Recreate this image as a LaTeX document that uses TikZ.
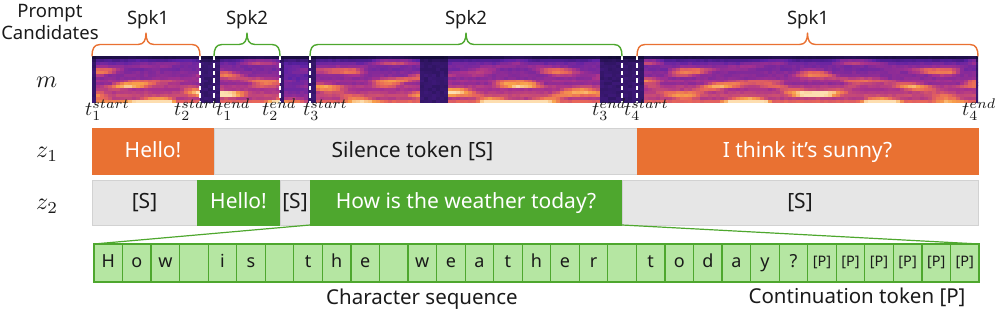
\documentclass[tikz,border=0pt]{standalone}
\usepackage{graphicx}
\usepackage{fontspec}
\setmainfont{Noto Sans}
\definecolor{ora}{HTML}{E97132}
\definecolor{grn}{HTML}{4EA72E}
\definecolor{lgrn}{HTML}{B5E6A2}
\definecolor{gry}{HTML}{E6E6E6}
\definecolor{gryb}{HTML}{D2D2D2}
\definecolor{txt}{HTML}{1A1A1A}
\definecolor{s0}{HTML}{0D0A2E}
\definecolor{s1}{HTML}{5C22A6}
\definecolor{s2}{HTML}{A8318E}
\definecolor{s3}{HTML}{E8665A}
\definecolor{s4}{HTML}{F8A04A}
\definecolor{s5}{HTML}{FDE3B8}
\newcommand\specset[1]{%
  \ifnum#1<30 \pgfmathtruncatemacro\pp{#1*100/30}\colorlet{sc}{s1!\pp!s0}%
  \else\ifnum#1<50 \pgfmathtruncatemacro\pp{(#1-30)*5}\colorlet{sc}{s2!\pp!s1}%
  \else\ifnum#1<70 \pgfmathtruncatemacro\pp{(#1-50)*5}\colorlet{sc}{s3!\pp!s2}%
  \else\ifnum#1<85 \pgfmathtruncatemacro\pp{(#1-70)*100/15}\colorlet{sc}{s4!\pp!s3}%
  \else \pgfmathtruncatemacro\pp{(#1-85)*100/15}\colorlet{sc}{s5!\pp!s4}%
  \fi\fi\fi\fi}
\newcommand\spkbrace[3]{%
  \pgfmathsetmacro\bm{(#1+#2)/2}%
  \draw[#3, line width=1.4pt, line cap=round, line join=round]
    (#1,56) .. controls (#1,49) and (#1+2,44.5) .. (#1+8,44.5)
    -- (\bm-8,44.5) .. controls (\bm-2,44.5) and (\bm,40) .. (\bm,33)
    .. controls (\bm,40) and (\bm+2,44.5) .. (\bm+8,44.5)
    -- (#2-8,44.5) .. controls (#2-2,44.5) and (#2,49) .. (#2,56);}
\newcommand\mth[1]{\scalebox{2.4}{$#1$}}
\newcommand\tth[1]{\scalebox{2.0}{$#1$}}
\tikzset{
  lbl/.style={inner sep=0pt, anchor=base, text=txt, font=\fontsize{18.5}{22}\selectfont},
  mlbl/.style={inner sep=0pt, anchor=base west, text=txt},
  seg/.style={inner sep=0pt, outer sep=0pt, minimum height=46pt, text height=16pt, text depth=3pt,
    font=\fontsize{21}{25}\selectfont, line width=0.8pt},
  obox/.style={seg, fill=ora, draw=ora, text=white},
  gbox/.style={seg, fill=grn, draw=grn, text=white},
  sbox/.style={seg, fill=gry, draw=gryb, text=txt},
  cell/.style={inner sep=0pt, outer sep=0pt, draw=grn, fill=lgrn, line width=1.2pt,
    minimum width=28.548pt, minimum height=38pt, text height=13pt, text depth=3pt,
    text=txt, font=\fontsize{18}{22}\selectfont},
  pcell/.style={cell, text height=10.5pt, text depth=3pt, font=\fontsize{14.5}{17}\selectfont},
  tick/.style={white, line width=1.3pt, dash pattern=on 4.5pt off 3pt}
}
\begin{document}
\begin{tikzpicture}[x=1pt, y=-1pt]
\useasboundingbox (0,0) rectangle (996,315);

% spectrogram
\begin{scope}
\clip (92,56) rectangle (978,103);
\fill[s0] (92,56) rectangle (978,103);
\pgfmathsetseed{4242}
\foreach \i in {0,...,221}{
  \pgfmathsetmacro\xx{92+4*\i}
  \pgfmathsetmacro\act{(\xx>95)*(\xx<198)+(\xx>216)*(\xx<278)+0.6*(\xx>283)*(\xx<306)+(\xx>312)*(\xx<418)+(\xx>446)*(\xx<600)+(\xx>642)*(\xx<976)}
  \pgfmathsetmacro\aa{sin(3.0*\xx)}
  \pgfmathsetmacro\ab{sin(1.8*\xx+50)}
  \pgfmathsetmacro\ac{sin(5.5*\xx+120)}
  \foreach \j in {0,...,15}{
    \pgfmathsetmacro\bb{max(0,min(1,(\aa*sin(50*\j+30)+0.8*\ab*sin(65*\j+10)+0.6*\ac*sin(38*\j+80))/1.4))}
    \pgfmathsetmacro\rf{\j/15}
    \pgfmathsetmacro\st{(0.5+0.5*sin(150*\j))*\rf}
    \pgfmathsetmacro\vv{0.14+\act*(0.18+0.22*\rf*sqrt(\rf)+0.12*\st+0.5*\bb*(0.5+0.5*\rf))+0.05*rnd}
    \pgfmathsetmacro\vw{\vv*min(1,0.2+0.5*\j)}
    \pgfmathtruncatemacro\vi{100*max(0,min(0.99,\vw))}
    \specset{\vi}
    \fill[sc] (\xx,56+2.94*\j) rectangle ++(4.1,3.05);
  }
}
\end{scope}
\foreach \xd in {200,214,280,310,622,637}{
  \draw[tick] (\xd,56) -- (\xd,103);
}

% braces and speaker labels
\spkbrace{92}{200}{ora}
\spkbrace{214}{280}{grn}
\spkbrace{310}{622}{grn}
\spkbrace{637}{978}{ora}
\node[lbl] (spa) at (148,25) {Spk1};
\node[lbl] (spb) at (247,25) {Spk2};
\node[lbl] (spc) at (466,25) {Spk2};
\node[lbl] (spd) at (808,25) {Spk1};
\node[lbl] (pr1) at (50,18) {Prompt};
\node[lbl] (pr2) at (50,40) {Candidates};

% row labels
\node[mlbl] (lm) at (36,88) {\mth{m}};
\node[mlbl] (lz1) at (36,158) {\mth{z_1}};
\node[mlbl] (lz2) at (36,210) {\mth{z_2}};

% time labels
\node[mlbl] (t1s) at (85,116) {\tth{t_1^{start}}};
\node[mlbl] (t2s) at (174,116) {\tth{t_2^{start}}};
\node[mlbl] (t1e) at (216,116) {\tth{t_1^{end}}};
\node[mlbl] (t2e) at (262,116) {\tth{t_2^{end}}};
\node[mlbl] (t3s) at (303,116) {\tth{t_3^{start}}};
\node[mlbl] (t3e) at (592,116) {\tth{t_3^{end}}};
\node[mlbl] (t4s) at (624,116) {\tth{t_4^{start}}};
\node[mlbl] (t4e) at (962,116) {\tth{t_4^{end}}};

% z1 row
\node[obox, minimum width=122pt] (z1a) at (153,151) {Hello!};
\node[sbox, minimum width=423pt] (z1b) at (425.5,151) {};
\node[obox, minimum width=341pt] (z1c) at (807.5,151) {I think it’s sunny?};
\node[inner sep=0pt, anchor=base, text=txt, font=\fontsize{21}{25}\selectfont] (z1bt) at (412.5,157.5) {Silence token [S]};

% z2 row
\node[sbox, minimum width=105pt, minimum height=45pt] (z2a) at (144.5,202.5) {[S]};
\node[gbox, minimum width=83pt, minimum height=45pt] (z2b) at (238.5,202.5) {Hello!};
\node[sbox, minimum width=30pt, minimum height=45pt] (z2c) at (295,202.5) {[S]};
\node[gbox, minimum width=312pt, minimum height=45pt] (z2d) at (466,202.5) {How is the weather today?};
\node[sbox, minimum width=356pt, minimum height=45pt] (z2e) at (800,202.5) {[S]};

% character cells
\foreach \ch [count=\k from 0] in {H,o,w,{},i,s,{},t,h,e,{},w,e,a,t,h,e,r,{},t,o,d,a,y,?}{
  \node[cell] (c\k) at ({94+28.548*(\k+0.5)},263) {\ch};
}
\foreach \k in {25,...,30}{
  \node[pcell] (c\k) at ({94+28.548*(\k+0.5)},263) {[P]};
}
\draw[grn, line width=1.2pt] (z2d.south west) -- (c0.north west);
\draw[grn, line width=1.2pt] (z2d.south east) -- (c30.north east);

\node[lbl, font=\fontsize{20.5}{24}\selectfont] (cseq) at (422,304) {Character sequence};
\node[lbl, font=\fontsize{20.5}{24}\selectfont] (ctok) at (857,303) {Continuation token [P]};
\end{tikzpicture}
\end{document}
